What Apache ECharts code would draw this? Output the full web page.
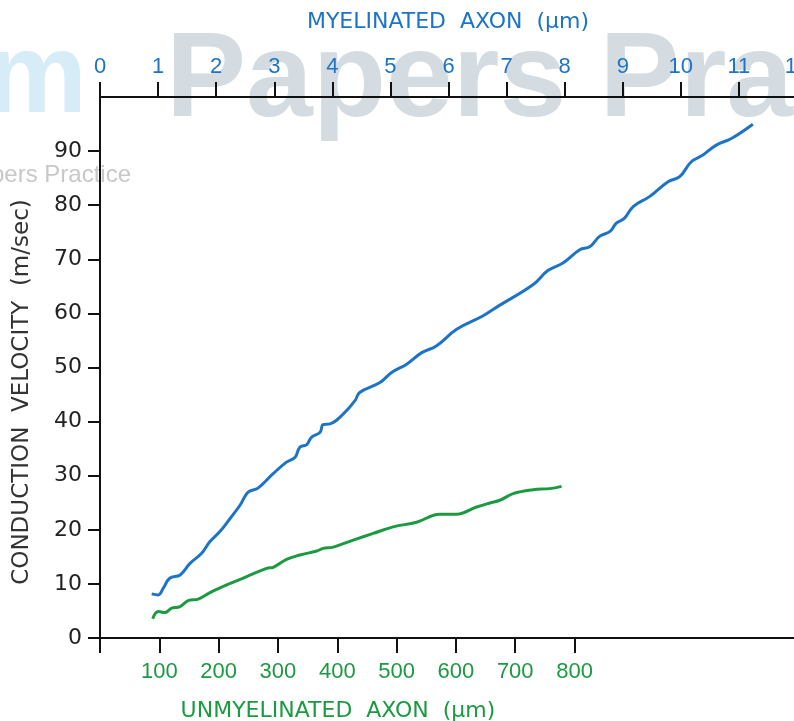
<!DOCTYPE html>
<html>
<head>
<meta charset="utf-8">
<script src="https://cdn.jsdelivr.net/npm/echarts@6/dist/echarts.min.js"></script>
<style>html,body{margin:0;padding:0;background:#fff}#c{width:794px;height:721px}</style>
</head>
<body>
<div id="c"></div>
<script>
// Myelinated axon diameter (µm) vs conduction velocity (m/sec) — top axis
const myelinDiam = [0.89,1.00,1.09,1.20,1.38,1.55,1.75,1.89,2.06,2.24,2.41,2.55,2.72,2.98,3.21,3.36,3.44,3.56,3.64,3.79,3.84,3.96,4.19,4.39,4.47,4.82,5.02,5.28,5.54,5.79,6.14,6.59,6.83,7.46,7.71,7.97,8.26,8.43,8.60,8.78,8.89,9.03,9.18,9.46,9.78,9.98,10.18,10.38,10.61,10.87,11.24];
const myelinVel  = [8.15,7.97,9.2,11.04,11.65,13.8,15.65,17.78,19.62,22.09,24.54,26.98,27.7,30.37,32.5,33.43,35.27,35.76,37.1,38.03,39.44,39.57,41.41,43.86,45.39,47.23,49.07,50.62,52.75,53.98,57.06,59.51,61.16,65.34,67.92,69.32,71.78,72.3,74.23,75.15,76.68,77.6,79.75,81.59,84.35,85.27,88.03,89.27,91.11,92.32,94.97];
// Unmyelinated axon diameter (µm) vs conduction velocity (m/sec) — bottom axis
const unmyelDiam = [88.8,98.2,109.5,120.8,134.8,148.8,165.7,185.4,213.5,247.2,280.9,292.0,314.6,337.0,365.2,376.3,393.2,426.9,460.6,494.3,533.7,573.0,601.1,634.8,657.2,674.1,696.5,730.2,758.3,778.1];
const unmyelVel  = [3.55,4.9,4.71,5.52,5.82,6.92,7.18,8.39,9.81,11.34,12.88,13.07,14.54,15.33,16.07,16.57,16.8,18.09,19.33,20.54,21.4,22.88,22.88,24.22,24.96,25.46,26.69,27.42,27.61,28.03];
// Tick values
const topTicks = [0,1,2,3,4,5,6,7,8,9,10,11,12];
const bottomTickMarks = [0,100,200,300,400,500,600,700,800];
const bottomTickLabels = [100,200,300,400,500,600,700,800];
const yTicks = [0,10,20,30,40,50,60,70,80,90];

const BLUE = '#1d74c6', GREEN = '#1c9a42', TXT = '#222';
const chart = echarts.init(document.getElementById('c'));
const axisLine = {show:true, onZero:false, lineStyle:{color:'#111', width:2}};
chart.setOption({
  animation:false,
  backgroundColor:'#fff',
  graphic:[
    {type:'text', z:-10, style:{x:87, y:24, text:'m', align:'right', verticalAlign:'top', fill:'#d6ecf7', font:'bold 114px "Liberation Sans", Arial, sans-serif'}},
    {type:'text', z:-10, style:{x:166, y:23, text:'Papers Practice', align:'left', verticalAlign:'top', fill:'#d5dce1', font:'bold 120px "Liberation Sans", Arial, sans-serif'}},
    {type:'text', z:-10, style:{x:131, y:175, text:'Exam Papers Practice', align:'right', verticalAlign:'middle', fill:'#c8c8c8', font:'24px "Liberation Sans", Arial, sans-serif'}},
    {type:'text', z:10, style:{x:448, y:22, text:'MYELINATED  AXON  (μm)', align:'center', verticalAlign:'middle', fill:BLUE, font:'22px "DejaVu Sans", sans-serif'}},
    {type:'text', z:10, style:{x:338, y:711, text:'UNMYELINATED  AXON  (μm)', align:'center', verticalAlign:'middle', fill:GREEN, font:'22px "DejaVu Sans", sans-serif'}},
    {type:'text', z:10, rotation:Math.PI/2, x:22, y:392, style:{x:0, y:0, text:'CONDUCTION  VELOCITY  (m/sec)', align:'center', verticalAlign:'middle', fill:'#333', font:'23px "DejaVu Sans", sans-serif'}}
  ],
  grid:{left:100, right:-3, top:97, bottom:83, containLabel:false, outerBoundsMode:'none'},
  xAxis:[
    {type:'value', position:'top', min:0, max:12, interval:1,
     axisLine:axisLine, splitLine:{show:false},
     axisTick:{show:true, length:15, lineStyle:{color:'#111', width:2}, customValues:topTicks},
     axisLabel:{color:BLUE, fontSize:22, margin:19, fontFamily:'"Liberation Sans", Arial, sans-serif', customValues:topTicks, showMaxLabel:true, hideOverlap:false}},
    {type:'value', position:'bottom', min:0, max:1175,
     axisLine:axisLine, splitLine:{show:false},
     axisTick:{show:true, length:15, lineStyle:{color:'#111', width:2}, customValues:bottomTickMarks},
     axisLabel:{color:GREEN, fontSize:22, margin:23, fontFamily:'"Liberation Sans", Arial, sans-serif', customValues:bottomTickLabels}}
  ],
  yAxis:[
    {type:'value', min:0, max:100, interval:10,
     axisLine:axisLine, splitLine:{show:false},
     axisTick:{show:true, length:12, lineStyle:{color:'#111', width:2}, customValues:yTicks},
     axisLabel:{color:TXT, fontSize:22, margin:18, fontFamily:'"DejaVu Sans", sans-serif', customValues:yTicks}}
  ],
  series:[
    {type:'line', xAxisIndex:0, yAxisIndex:0, smooth:0.4, showSymbol:false, z:5,
     lineStyle:{color:BLUE, width:3}, data:myelinDiam.map((d,i)=>[d, myelinVel[i]])},
    {type:'line', xAxisIndex:1, yAxisIndex:0, smooth:0.4, showSymbol:false, z:5,
     lineStyle:{color:GREEN, width:3}, data:unmyelDiam.map((d,i)=>[d, unmyelVel[i]])}
  ]
});
</script>
</body>
</html>
